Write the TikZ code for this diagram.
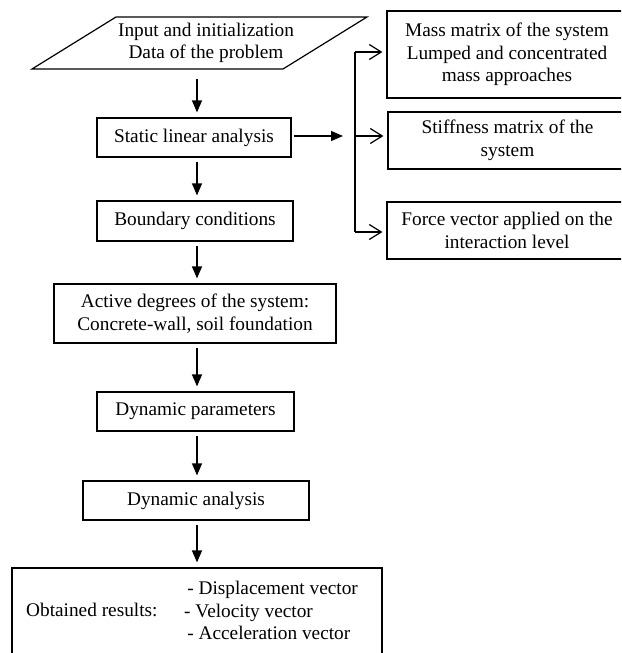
\documentclass[tikz,border=0pt]{standalone}
\usepackage{fontspec}
\setmainfont{Liberation Serif}
\usetikzlibrary{arrows.meta}
\begin{document}
\begin{tikzpicture}[x=1pt,y=-1pt,
  box/.style={draw, line width=1.2pt, rectangle, inner sep=0pt, align=center,
    font=\fontsize{19.3}{22.5}\selectfont},
  txt/.style={inner sep=0pt, align=center, font=\fontsize{19.3}{22.5}\selectfont},
  arr/.style={line width=1.2pt, -{Triangle[length=12pt,width=10pt]}, shorten <=4pt, shorten >=5pt},
  oarr/.style={line width=1.2pt, -{Straight Barb[length=12pt,width=15pt,line width=1.2pt]}, shorten >=4pt}]
\useasboundingbox (0,0) rectangle (621,653);
\clip (0,0) rectangle (621,653);
% input parallelogram
\draw[line width=1.2pt] (116,17) -- (367,17) -- (283,69) -- (32,69) -- cycle;
\node[txt] (inp) at (206,43) {Input and initialization\\Data of the problem};
\coordinate (inpb) at (197,69);
\coordinate (ax) at (197,0);
% main column
\node[box, minimum width=194pt, minimum height=39pt] (static) at (194,137.5) {Static linear analysis};
\node[box, minimum width=196pt, minimum height=40pt] (bc) at (195,221) {Boundary conditions};
\node[box, minimum width=282pt, minimum height=59pt] (active) at (195,313.5) {Active degrees of the system:\\Concrete-wall, soil foundation};
\node[box, minimum width=197pt, minimum height=39pt] (dynpar) at (195.5,411.5) {Dynamic parameters};
\node[box, minimum width=226pt, minimum height=39pt] (dynan) at (196,500.5) {Dynamic analysis};
\node[box, minimum width=370pt, minimum height=110pt] (res) at (197,623) {};
\node[txt, anchor=west] (obt) at (26,610) {Obtained results:};
\node[txt, anchor=west, align=left] (list) at (184,610.5) {\,- Displacement vector\\- Velocity vector\\\,- Acceleration vector};
% right column
\node[box, minimum width=240pt, minimum height=87pt] (mass) at (507,54.5) {Mass matrix of the system\\Lumped and concentrated\\mass approaches};
\node[box, minimum width=239pt, minimum height=57pt] (stiff) at (507.5,140.5) {Stiffness matrix of the\\system};
\node[box, minimum width=240pt, minimum height=57pt] (force) at (507,230.5) {Force vector applied on the\\interaction level};
% vertical arrows
\draw[arr, shorten <=10pt] (inpb) -- (static.north -| ax);
\draw[arr] (static.south -| ax) -- (bc.north -| ax);
\draw[arr] (bc.south -| ax) -- (active.north -| ax);
\draw[arr] (active.south -| ax) -- (dynpar.north -| ax);
\draw[arr] (dynpar.south -| ax) -- (dynan.north -| ax);
\draw[arr] (dynan.south -| ax) -- (res.north -| ax);
% branch
\coordinate (jn) at (355,136);
\draw[arr, shorten <=2pt, shorten >=12pt] (static.east |- jn) -- (jn);
\draw[line width=1.2pt] (jn |- 0,52) -- (jn |- 0,232);
\draw[oarr] (jn |- 0,52) -- (mass.west |- 0,52);
\draw[oarr] (jn) -- (stiff.west |- jn);
\draw[oarr] (jn |- 0,232) -- (force.west |- 0,232);
\end{tikzpicture}
\end{document}
